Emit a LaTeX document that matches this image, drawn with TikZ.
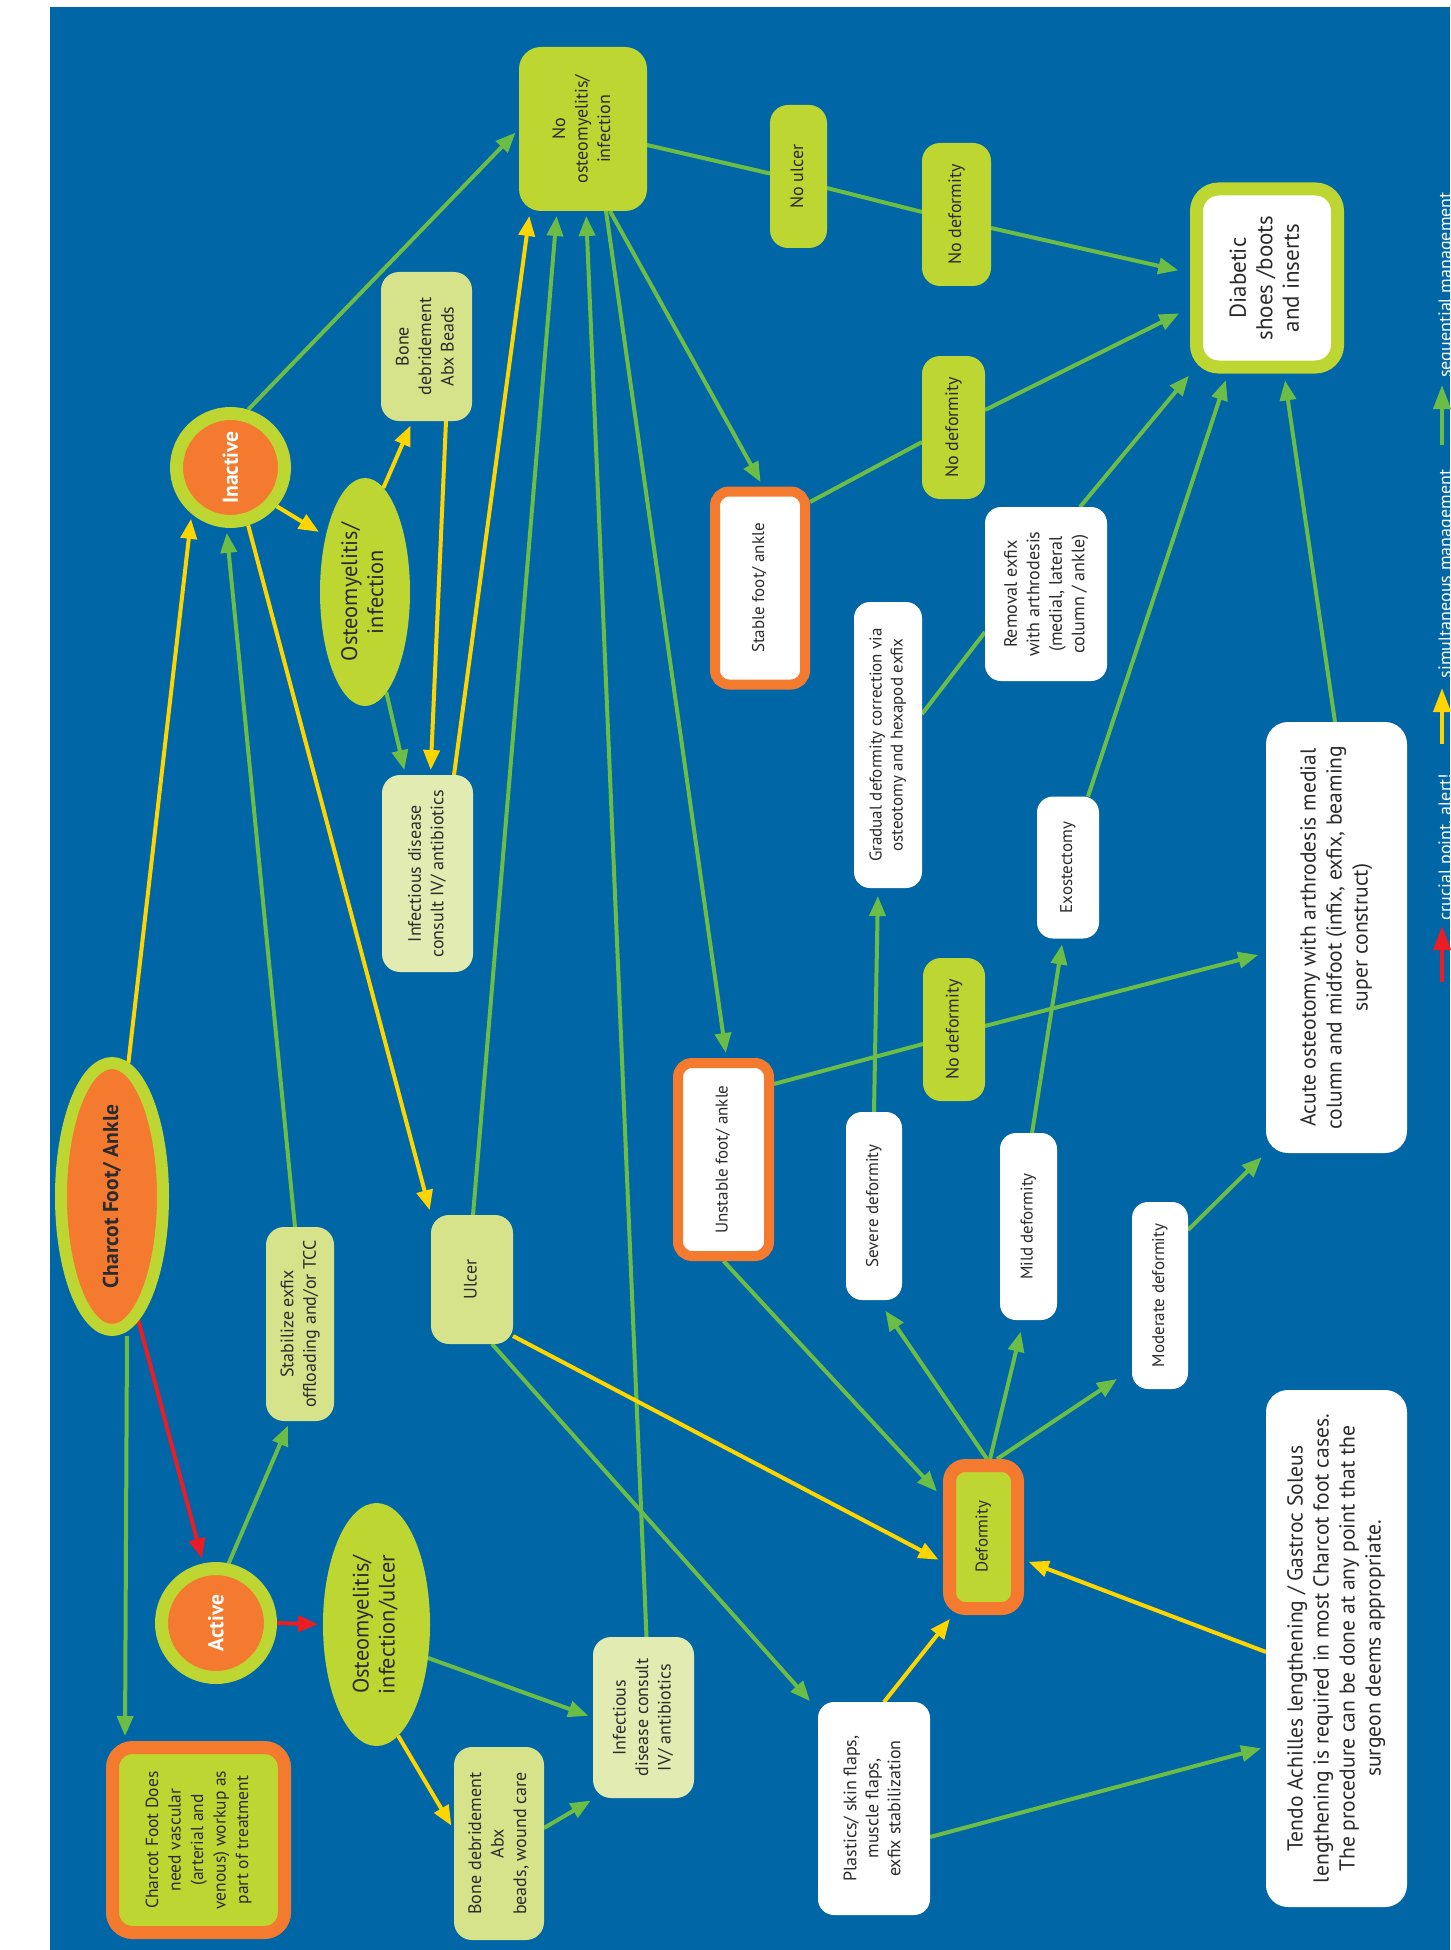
\documentclass[tikz,border=0pt]{standalone}
\usepackage{fontspec}
\setmainfont{PT Sans}
\usetikzlibrary{shapes.geometric,arrows.meta,calc}
\definecolor{bgblue}{HTML}{0066A6}
\definecolor{lime}{HTML}{BDD631}
\definecolor{lgreen}{HTML}{D6E38A}
\definecolor{pgreen}{HTML}{E2EBB1}
\definecolor{orng}{HTML}{F47A30}
\definecolor{agreen}{HTML}{6CBD45}
\definecolor{ayellow}{HTML}{FFD500}
\definecolor{ared}{HTML}{EC1C24}
\definecolor{ink}{HTML}{2B2B2B}
\pgfdeclarelayer{bglayer}
\pgfdeclarelayer{edgelayer}
\pgfsetlayers{bglayer,edgelayer,main}
\newcommand{\vt}[1]{\rotatebox{90}{\begin{tabular}{@{}c@{}}#1\end{tabular}}}
\begin{document}
\begin{tikzpicture}[x=1pt,y=-1pt,
  base/.style={rectangle, inner sep=0pt, outer sep=0pt, text=ink, font=\fontsize{18}{22.5}\selectfont},
  limebox/.style={base, fill=lime, rounded corners=18pt},
  lgbox/.style={base, fill=lgreen, rounded corners=18pt},
  pgbox/.style={base, fill=pgreen, rounded corners=18pt},
  wbox/.style={base, fill=white, rounded corners=16pt, font=\fontsize{17}{21}\selectfont},
  bigbox/.style={base, fill=white, rounded corners=22pt, font=\fontsize{21.6}{26}\selectfont},
  obox/.style={base, draw=orng, line width=10pt, outer sep=5pt, fill=white, rounded corners=14pt, font=\fontsize{17}{21}\selectfont},
  ring/.style={circle, draw=lime, line width=13pt, fill=orng, outer sep=6.5pt, inner sep=0pt, text=white, font=\bfseries\fontsize{21.5}{26}\selectfont},
  oval/.style={ellipse, fill=lime, inner sep=0pt, outer sep=0pt, text=ink, font=\fontsize{22.4}{26}\selectfont},
  gline/.style={draw=agreen, line width=4pt},
  garrow/.style={gline, -{Triangle[length=20pt,width=16pt]}, shorten >=5pt},
  yarrow/.style={draw=ayellow, line width=4pt, -{Triangle[length=20pt,width=16pt]}, shorten >=5pt},
  rarrow/.style={draw=ared, line width=4pt, -{Triangle[length=20pt,width=16pt]}, shorten >=5pt},
  legtext/.style={rotate=90, anchor=base, inner sep=0pt, text=white, font=\fontsize{18}{20}\selectfont}
]
\useasboundingbox (0,0) rectangle (1450,1950);
\begin{pgfonlayer}{bglayer}
\fill[white] (0,0) rectangle (1450,1950);
\fill[bgblue] (50,7) rectangle (1450,1950);
\end{pgfonlayer}

% ---------- nodes ----------
\node[ellipse, draw=lime, line width=12pt, fill=orng, outer sep=6pt, inner sep=0pt,
      minimum width=102pt, minimum height=267pt, text=ink,
      font=\bfseries\fontsize{21.5}{26}\selectfont] (charcot) at (112,1196.5) {\rotatebox{90}{Charcot Foot/ Ankle}};
\node[ring, minimum size=108pt] (inactive) at (230.5,467.5) {\rotatebox{90}{Inactive}};
\node[ring, minimum size=109pt] (active) at (216,1623) {\rotatebox{90}{Active}};
\node[obox, line width=13pt, outer sep=6.5pt, fill=lime, rounded corners=20pt,
      minimum width=172pt, minimum height=185pt, font=\fontsize{17.5}{22.5}\selectfont] (does) at (198.5,1840)
      {\vt{Charcot Foot Does\\need vascular\\(arterial and\\venous) workup as\\part of treatment}};
\node[oval, minimum width=107pt, minimum height=243pt] (oulcer) at (376.5,1624.5) {\vt{Osteomyelitis/\\infection/ulcer}};
\node[oval, minimum width=90pt, minimum height=228pt] (oinf) at (365,592) {\vt{Osteomyelitis/\\infection}};
\node[lgbox, minimum width=91pt, minimum height=149pt] (bonetop) at (426.5,346.5) {\vt{Bone\\debridement\\Abx Beads}};
\node[pgbox, minimum width=91pt, minimum height=197pt] (inftop) at (427.5,873.5) {\vt{Infectious disease\\consult IV/ antibiotics}};
\node[limebox, rounded corners=22pt, minimum width=128pt, minimum height=164pt] (noosteo) at (583,129) {\vt{No\\osteomyelitis/\\infection}};
\node[limebox, minimum width=57pt, minimum height=143pt] (noulcer) at (798.5,176.5) {\vt{No ulcer}};
\node[limebox, minimum width=69pt, minimum height=143pt] (nodefa) at (956.5,214.5) {\vt{No deformity}};
\node[limebox, minimum width=63pt, minimum height=143pt] (nodefb) at (953.5,427.5) {\vt{No deformity}};
\node[limebox, minimum width=62pt, minimum height=143pt] (nodefc) at (954,1029.5) {\vt{No deformity}};
\node[bigbox, draw=lime, line width=13pt, outer sep=6.5pt, minimum width=141pt, minimum height=178pt,
      font=\fontsize{23}{26.5}\selectfont] (diab) at (1267,278) {\vt{Diabetic\\shoes /boots\\and inserts}};
\node[obox, minimum width=90pt, minimum height=193pt] (stable) at (760,588) {\vt{Stable foot/ ankle}};
\node[obox, minimum width=91pt, minimum height=193pt] (unstable) at (723.5,1159.5) {\vt{Unstable foot/ ankle}};
\node[wbox, minimum width=68pt, minimum height=286pt] (gradual) at (888,745) {\vt{Gradual deformity correction via\\osteotomy and hexapod exfix}};
\node[wbox, font=\fontsize{18}{22.5}\selectfont, minimum width=122pt, minimum height=174pt] (removal) at (1046,594)
      {\vt{Removal exfix\\with arthrodesis\\(medial, lateral\\column / ankle)}};
\node[wbox, minimum width=62pt, minimum height=142pt] (exo) at (1068,867.5) {\vt{Exostectomy}};
\node[bigbox, minimum width=141pt, minimum height=431pt] (acute) at (1336.5,937.5)
      {\vt{Acute osteotomy with arthrodesis medial\\column and midfoot (infix, exfix, beaming\\super construct)}};
\node[lgbox, minimum width=82pt, minimum height=129pt] (ulcer) at (472,1279.5) {\vt{Ulcer}};
\node[wbox, minimum width=56pt, minimum height=188pt] (severe) at (874,1206) {\vt{Severe deformity}};
\node[wbox, minimum width=57pt, minimum height=187pt] (mild) at (1028.5,1226.5) {\vt{Mild deformity}};
\node[wbox, minimum width=56pt, minimum height=187pt] (moderate) at (1160,1295.5) {\vt{Moderate deformity}};
\node[bigbox, minimum width=141pt, minimum height=517pt] (tendo) at (1336.5,1648.5)
      {\vt{Tendo Achilles lengthening / Gastroc Soleus\\lengthening is required in most Charcot foot cases.\\The procedure can be done at any point that the\\surgeon deems appropriate.}};
\node[obox, line width=13pt, outer sep=6.5pt, fill=lime, rounded corners=16pt, minimum width=68pt, minimum height=143pt] (deform) at (983.5,1537) {\vt{Deformity}};
\node[lgbox, minimum width=68pt, minimum height=194pt] (stabilize) at (300,1324) {\vt{Stabilize exfix\\offloading and/or TCC}};
\node[lgbox, minimum width=90pt, minimum height=193pt] (boneb) at (499,1843.5) {\vt{Bone debridement\\Abx\\beads, wound care}};
\node[pgbox, minimum width=101pt, minimum height=161pt] (infb) at (643.5,1717.5) {\vt{Infectious\\disease consult\\IV/ antibiotics}};
\node[wbox, font=\fontsize{18}{22}\selectfont, minimum width=112pt, minimum height=213pt] (plastics) at (874,1808.5)
      {\vt{Plastics/ skin flaps,\\muscle flaps,\\exfix stabilization}};

% ---------- legend ----------
\node[legtext] (lt1) at (1451,285) {sequential management};
\node[legtext] (lt2) at (1451,574) {simultaneous management};
\node[legtext] (lt3) at (1451,847) {crucial point, alert!};
\coordinate (lg1a) at (1442,445); \coordinate (lg1b) at (1442,385);
\coordinate (lg2a) at (1442,744); \coordinate (lg2b) at (1442,688);
\coordinate (lg3a) at (1442,982); \coordinate (lg3b) at (1442,926);

% ---------- connectors ----------
\begin{pgfonlayer}{edgelayer}
\draw[agreen, line width=4pt, -{Triangle[length=24pt,width=17pt]}] (lg1a) -- (lg1b);
\draw[ayellow, line width=4pt, -{Triangle[length=24pt,width=17pt]}] (lg2a) -- (lg2b);
\draw[ared, line width=4pt, -{Triangle[length=24pt,width=17pt]}] (lg3a) -- (lg3b);
% red
\draw[rarrow] (charcot.-78) -- (active.102);
\draw[rarrow] (active.east) -- (oulcer.west);
% green
\draw[garrow] ($(charcot.south)+(15,0)$) -- ($(does.north)+(-73.5,0)$);
\draw[garrow] (active.78) -- ($(stabilize.south)+(-10,0)$);
\draw[garrow] ($(stabilize.north)+(-5,0)$) -- (inactive.-94);
\draw[garrow] (inactive.73) -- (noosteo.west);
\draw[garrow] (oinf.-78) -- ($(inftop.north)+(-22,0)$);
\draw[garrow] ($(noosteo.south)+(27,0)$) -- ($(stable.north)+(3,0)$);
\draw[garrow] ($(noosteo.south)+(23,0)$) -- ($(unstable.north)+(3,0)$);
\draw[gline] ($(noosteo.east)+(0,16)$) -- ($(noulcer.west)+(0,-3)$);
\draw[gline] ($(noulcer.east)+(0,11.5)$) -- ($(nodefa.west)+(0,-2.5)$);
\draw[garrow, shorten >=12pt] ($(nodefa.east)+(0,13.5)$) -- ($(diab.west)+(0,-5)$);
\draw[gline] ($(stable.east)+(0,-86)$) -- ($(nodefb.west)+(0,14.5)$);
\draw[garrow, shorten >=12pt] ($(nodefb.east)+(0,-17.5)$) -- ($(diab.west)+(0,30)$);
\draw[garrow, shorten >=8pt] ($(removal.north)+(34,0)$) -- ($(diab.south west)+(4,-4)$);
\draw[gline] ($(gradual.east)+(0,-31)$) -- ($(removal.west)+(0,38)$);
\draw[garrow, shorten >=7pt] ($(exo.north)+(20,0)$) -- ($(diab.south)+(-39,0)$);
\draw[garrow, shorten >=7pt] ($(acute.north)+(-1.5,0)$) -- ($(diab.south)+(17,0)$);
\draw[gline] ($(unstable.east)+(0,-75.5)$) -- ($(nodefc.west)+(0,14.5)$);
\draw[garrow, shorten >=8pt] ($(nodefc.east)+(0,-3.5)$) -- ($(acute.west)+(0,15.5)$);
\draw[garrow, shorten >=9pt] (unstable.south) -- ($(deform.west)+(0,-39)$);
\draw[garrow, shorten >=13pt] ($(deform.north)+(3.5,0)$) -- ($(severe.south)+(4,0)$);
\draw[garrow, shorten >=12pt] ($(deform.north)+(6.5,0)$) -- ($(mild.south)+(-5,0)$);
\draw[garrow, shorten >=18pt] ($(deform.north)+(13.5,0)$) -- ($(moderate.west)+(0,73.5)$);
\draw[garrow, shorten >=6pt] ($(moderate.east)+(0,-65.5)$) -- (acute.south west);
\draw[garrow, shorten >=8pt] (severe.north) -- ($(gradual.south)+(-10,0)$);
\draw[garrow, shorten >=6pt] ($(mild.north)+(3.5,0)$) -- ($(exo.south)+(-5,0)$);
\draw[garrow, shorten >=12pt] ($(ulcer.south)+(20,0)$) -- ($(plastics.north west)+(0,8)$);
\draw[garrow] ($(ulcer.north)+(1,0)$) -- ($(noosteo.south)+(-26,0)$);
\draw[garrow] ($(infb.north)+(3,0)$) -- ($(noosteo.south)+(3,0)$);
\draw[garrow] (oulcer.-33) -- (infb.west);
\draw[garrow] ($(boneb.east)+(0,-15.5)$) -- ($(infb.south west)+(2,0)$);
\draw[garrow] ($(plastics.east)+(0,28.5)$) -- ($(tendo.west)+(0,98.5)$);
% yellow
\draw[yarrow] (charcot.83) -- (inactive.-130);
\draw[yarrow, shorten >=8pt] (inactive.-40) -- (oinf.125);
\draw[yarrow] (oinf.80) -- ($(bonetop.south)+(-14,0)$);
\draw[yarrow] ($(bonetop.south)+(19.5,0)$) -- ($(inftop.north)+(3,0)$);
\draw[yarrow] ($(inftop.north)+(26.5,0)$) -- ($(noosteo.south)+(-53,0)$);
\draw[yarrow] (inactive.-73) -- (ulcer.north west);
\draw[yarrow] ($(ulcer.south east)+(0,-8)$) -- ($(deform.west)+(0,25)$);
\draw[yarrow] ($(plastics.north)+(10,0)$) -- ($(deform.south west)+(10,0)$);
\draw[yarrow] ($(tendo.west)+(0,3.5)$) -- ($(deform.east)+(0,23)$);
\draw[yarrow] (oulcer.-79) -- ($(boneb.west)+(0,-13.5)$);
\end{pgfonlayer}
\end{tikzpicture}
\end{document}
